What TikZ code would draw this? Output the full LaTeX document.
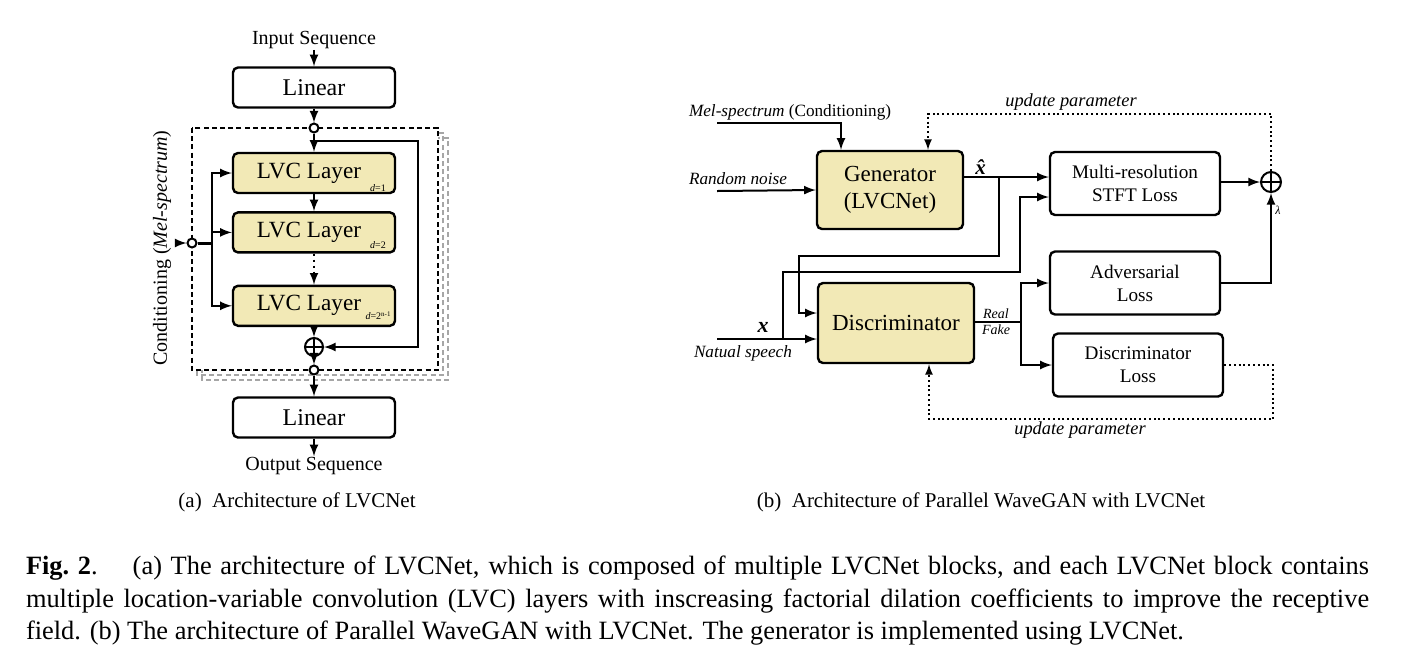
\documentclass[tikz,border=0pt]{standalone}
\usepackage{fontspec}
\setmainfont{Liberation Serif}
\usetikzlibrary{shapes}
\usetikzlibrary{arrows}
\usetikzlibrary{positioning}

\definecolor{lvcfill}{RGB}{242,233,182}

\begin{document}
\begin{tikzpicture}
        [x=0.5pt, y=-0.5pt, >=latex, line width=1pt,
         blk/.style={draw, line width=1.2pt, rounded corners=2.5pt, align=center, inner sep=0pt},
         lvc/.style={blk, fill=lvcfill, minimum width=81pt, minimum height=20pt, font=\fontsize{11.6}{13}\selectfont},
         linbox/.style={blk, minimum width=81pt, minimum height=20pt, font=\fontsize{12}{14}\selectfont},
         joint/.style={circle, draw, fill=white, line width=1pt, inner sep=0pt, minimum size=4.5pt},
         adder/.style={circle, draw, line width=1pt, inner sep=0pt, minimum size=#1,
           path picture={\draw (path picture bounding box.north) -- (path picture bounding box.south)
             (path picture bounding box.west) -- (path picture bounding box.east);}},
         lossbox/.style={blk, minimum width=85pt, minimum height=31.5pt, font=\fontsize{9.6}{11.5}\selectfont},
         txt/.style={inner sep=0pt, font=\fontsize{#1}{#1}\selectfont},
         dil/.style={inner sep=0pt, font=\fontsize{5}{5}\selectfont},
         upd/.style={line width=0.8pt, dash pattern=on 1pt off 1.4pt},
         frame/.style={line width=0.8pt, dash pattern=on 2.5pt off 1.6pt}]
        \useasboundingbox (0,0) rectangle (1408,655);

        % (a) LVCNet
        \draw [frame, gray!70] (202,138) rectangle (448,380);
        \draw [frame, gray!70] (197,133) rectangle (443,375);
        \draw [frame, fill=white] (192,128) rectangle (438,370);

        \node [txt=10] (inseq) at (314,40) {Input Sequence};
        \node [linbox] (lin1) at (314,87.5) {Linear};
        \node [joint] (topj) at (314,128) {};
        \node [lvc] (lvc1) at (314,173) {LVC Layer\hspace{5pt}};
        \node [lvc, below=8.5pt of lvc1] (lvc2) {LVC Layer\hspace{5pt}};
        \node [lvc, below=15.5pt of lvc2] (lvc3) {LVC Layer\hspace{5pt}};
        \node [adder=9pt] (sum1) at (314,347) {};
        \node [joint] (botj) at (314,370) {};
        \node [linbox] (lin2) at (314,417.5) {Linear};
        \node [txt=10] (outseq) at (314,466) {Output Sequence};
        \node [dil] at (378,188) {\textit{d}=1};
        \node [dil] at (378,245) {\textit{d}=2};
        \node [dil] at (378,316) {\textit{d}=2\raisebox{1.5pt}{\fontsize{3.5}{3.5}\selectfont n-1}};

        \node [txt=10, rotate=90] (condlbl) at (162,248) {Conditioning (\textit{Mel-spectrum})};
        \node [joint] (condj) at (192,243) {};
        \coordinate (condin) at (175,243);
        \coordinate (cj) at (212,243);
        \coordinate (rj) at (314,141);
        \coordinate (rr) at (418,141);

        \draw [->] (inseq) -- (lin1);
        \draw [->] (lin1) -- (topj);
        \draw [->] (topj) -- (lvc1);
        \draw [->] (lvc1) -- (lvc2);
        \draw [->, dotted] (lvc2) -- (lvc3);
        \draw [->] (lvc3) -- (sum1);
        \draw [->] (sum1) -- (botj);
        \draw [->] (botj) -- (lin2);
        \draw [->] (lin2) -- (outseq);
        \draw [->] (rj) -- (rr) |- (sum1.east);
        \draw [->] (condin) -- (condj);
        \draw [line width=1.5pt] (condj) -- (cj);
        \draw [->] (cj) |- (lvc1.west);
        \draw [->] (cj) |- (lvc2.west);
        \draw [->] (cj) |- (lvc3.west);

        % (b) Parallel WaveGAN
        \node [blk, fill=lvcfill, minimum width=73pt, minimum height=39pt, font=\fontsize{11.5}{13.5}\selectfont] (gen) at (890,190) {Generator\\(LVCNet)};
        \node [blk, fill=lvcfill, minimum width=78pt, minimum height=40pt, font=\fontsize{11.5}{13.5}\selectfont] (disc) at (896,323) {Discriminator};
        \node [lossbox] (stft) at (1135,183.5) {Multi-resolution\\STFT Loss};
        \node [lossbox] (adv) at (1135,283) {Adversarial\\Loss};
        \node [lossbox] (dloss) at (1138,365) {Discriminator\\Loss};
        \node [adder=10pt] (sum2) at (1271,182) {};

        \node [txt=8.6, anchor=west] (mel) at (688,112) {\textit{Mel-spectrum} (Conditioning)};
        \node [txt=8.6, anchor=west] (noise) at (688,179) {\textit{Random noise}};
        \node [txt=8.6, anchor=west] (speech) at (693,353) {\textit{Natual speech}};
        \node [txt=11] (xlbl) at (763,327) {\textbf{\textit{x}}};
        \node [txt=10.5] (xhat) at (983,167) {\textbf{\textit{\^x}}};
        \node [txt=7] (real) at (996,314) {\textit{Real}};
        \node [txt=7] (fake) at (996,330) {\textit{Fake}};
        \node [txt=6] (lam) at (1278,210) {\textit{λ}};
        \node [txt=9.2] (upd1) at (1071,102) {\textit{update parameter}};
        \node [txt=9.2] (upd2) at (1080,430) {\textit{update parameter}};

        \coordinate (melin) at (717,123);
        \coordinate (noisein) at (717,191);
        \coordinate (speechin) at (717,339);
        \coordinate (xj) at (999,177);
        \coordinate (xb) at (799,256);
        \coordinate (sj) at (783,339);
        \coordinate (sb) at (1020,272);
        \coordinate (rf) at (1021,322);

        \draw [->] (melin) -| ([xshift=-24.5pt]gen.north);
        \draw [->] (noisein) -- (gen.west);
        \draw [->] ([yshift=6.5pt]gen.east) -- ([yshift=6.5pt]gen.east -| stft.west);
        \draw [->] (xj) |- (xb) |- ([yshift=5pt]disc.west);
        \draw [->] (speechin) -- ([yshift=-8pt]disc.west);
        \draw [->] (sj) |- (sb) |- ([yshift=-6.75pt]stft.west);
        \draw (disc.east |- rf) -- (rf);
        \draw [->] (rf) |- (adv.west);
        \draw [->] (rf) |- (dloss.west);
        \draw [->] (stft.east |- sum2) -- (sum2.west);
        \draw [->] (adv.east) -| (sum2.south);
        \draw [upd, ->] (sum2.north) |- ([xshift=19pt,yshift=18pt]gen.north) -- ([xshift=19pt]gen.north);
        \draw [upd, ->] (dloss.east) -- ++(24.5pt,0) |- ([xshift=16.5pt,yshift=-27.5pt]disc.south) -- ([xshift=16.5pt]disc.south);

        % captions
        \node [txt=10.5] (capa) at (297,502) {(a)\ \ Architecture of LVCNet};
        \node [txt=10.5] (capb) at (981,502) {(b)\ \ Architecture of Parallel WaveGAN with LVCNet};
        \node [anchor=north west, inner sep=0pt, text width=671.5pt, align=justify, font=\fontsize{13.2}{16.25}\selectfont] (caption) at (25,555)
          {\textbf{Fig.~2}.\quad\ (a) The architecture of LVCNet, which is composed of multiple LVCNet blocks, and each LVCNet block contains\linebreak
           multiple location-variable convolution (LVC) layers with inscreasing factorial dilation coefficients to improve the receptive\linebreak
           field. (b) The architecture of Parallel WaveGAN with LVCNet. The generator is implemented using LVCNet.};
    \end{tikzpicture}
\end{document}
